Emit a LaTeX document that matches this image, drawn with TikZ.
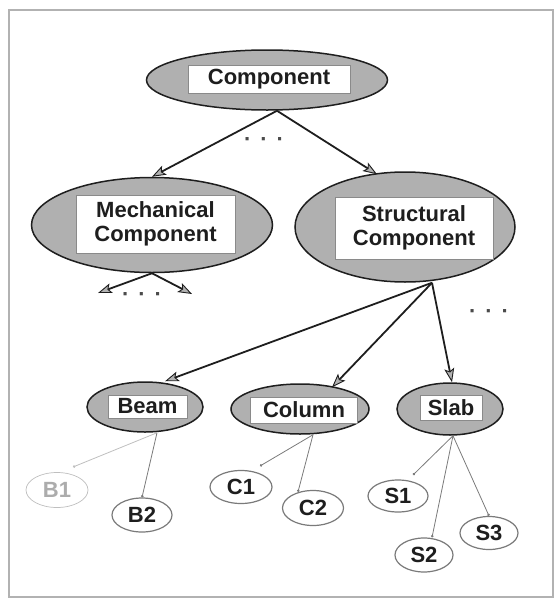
\documentclass[tikz,border=0pt]{standalone}
\usepackage{fontspec}
\setmainfont{Liberation Sans}
\usetikzlibrary{shapes.geometric,arrows.meta}

\definecolor{ink}{HTML}{1E1E1E}
\definecolor{shell}{HTML}{B0B0B0}
\definecolor{rim}{HTML}{8A8A8A}
\definecolor{thin}{HTML}{7A7A7A}
\newcommand\lblfont{\bfseries\fontsize{22}{24}\selectfont}

\begin{document}
\begin{tikzpicture}[x=1pt,y=-1pt,
  classnode/.style={ellipse, draw=ink, line width=1.5pt, fill=shell, inner sep=0pt},
  tag/.style={rectangle, draw=rim, fill=white, line width=1pt, inner sep=0pt,
              font=\lblfont, text=ink, align=center},
  leaf/.style={ellipse, draw=thin, fill=white, line width=1.2pt, inner sep=0pt,
               font=\lblfont, text=ink},
  faint/.style={draw=gray!50, line width=0.7pt, text=gray!65},
  arr/.style={draw=ink, line width=1.8pt,
              -{Stealth[length=14pt,width=10pt,inset=3pt,fill=gray!60,line width=0.9pt]}},
  link/.style={draw=thin, line width=0.8pt, -{Circle[length=2.5pt]}},
  dots/.style={font=\lblfont, text=ink!80, inner sep=0pt}]

\useasboundingbox (0,0) rectangle (555,600);
\draw[gray!60, line width=1.2pt] (9,10) rectangle (553,597);

% top level
\node[classnode, minimum width=241pt, minimum height=60pt] (comp) at (267,80) {};
\node[tag, minimum width=162pt, minimum height=28pt] (compt) at (269,79) {Component};

% second level
\node[classnode, minimum width=241pt, minimum height=95pt] (mech) at (152,225) {};
\node[tag, minimum width=159pt, minimum height=58pt] (mecht) at (155.5,224)
  {Mechanical\\Component};

\node[classnode, minimum width=220pt, minimum height=110pt] (struct) at (405,227) {};
\node[tag, minimum width=158pt, minimum height=62pt] (structt) at (414,228)
  {Structural\\Component};

% third level
\node[classnode, minimum width=116pt, minimum height=50pt] (beam) at (145,407) {};
\node[tag, minimum width=79pt, minimum height=23pt] (beamt) at (147.5,406.5) {Beam};

\node[classnode, minimum width=138pt, minimum height=50pt] (col) at (300,409) {};
\node[tag, minimum width=107pt, minimum height=26pt] (colt) at (304,410) {Column};

\node[classnode, minimum width=106pt, minimum height=52pt] (slab) at (450,409) {};
\node[tag, minimum width=62pt, minimum height=25pt] (slabt) at (451,407.5) {Slab};

% instances
\node[leaf, faint, minimum width=62pt, minimum height=35pt] (b1) at (57,490) {B1};
\node[leaf, minimum width=60pt, minimum height=34pt] (b2) at (142,515) {B2};
\node[leaf, minimum width=62pt, minimum height=33pt] (c1) at (241,487) {C1};
\node[leaf, minimum width=61pt, minimum height=35pt] (c2) at (313,508) {C2};
\node[leaf, minimum width=60pt, minimum height=32pt] (s1) at (398,496) {S1};
\node[leaf, minimum width=58pt, minimum height=34pt] (s2) at (424,555) {S2};
\node[leaf, minimum width=58pt, minimum height=33pt] (s3) at (489,533) {S3};

% ellipses marking omitted siblings
\node[dots] (d1) at (264,142) {·\hspace{9pt}·\hspace{9pt}·};
\node[dots] (d2) at (142,297) {·\hspace{9pt}·\hspace{9pt}·};
\node[dots] (d3) at (489,314) {·\hspace{9pt}·\hspace{9pt}·};

% free ends of the arrows under Mechanical Component
\coordinate (mleft) at (98,293);
\coordinate (mright) at (192,294);

% loose ends of the instance links
\coordinate (b1end) at (73,467);
\coordinate (c1end) at (260,466);
\coordinate (s1end) at (413,475);

% subclass arrows
\draw[arr] ([xshift=10pt]comp.south) -- (mech.north);
\draw[arr] ([xshift=10pt]comp.south) -- ([xshift=-28pt,yshift=-3pt]struct.north);
\draw[arr] (mech.south) -- (mleft);
\draw[arr] (mech.south) -- (mright);
\draw[arr] ([xshift=27pt]struct.south) -- ([xshift=20pt]beam.north);
\draw[arr] ([xshift=27pt]struct.south) -- ([xshift=32pt,yshift=-4pt]col.north);
\draw[arr] ([xshift=27pt]struct.south) -- ([xshift=2pt]slab.north);

% instance links
\draw[link, draw=gray!50] ([xshift=12pt]beam.south) -- (b1end);
\draw[link] ([xshift=12pt]beam.south) -- (b2.north);
\draw[link] ([xshift=13pt]col.south) -- (c1end);
\draw[link] ([xshift=13pt]col.south) -- ([xshift=-15pt,yshift=-2pt]c2.north);
\draw[link] ([xshift=3pt]slab.south) -- (s1end);
\draw[link] ([xshift=3pt]slab.south) -- ([xshift=8pt]s2.north);
\draw[link] ([xshift=3pt]slab.south) -- (s3.north);
\end{tikzpicture}
\end{document}
